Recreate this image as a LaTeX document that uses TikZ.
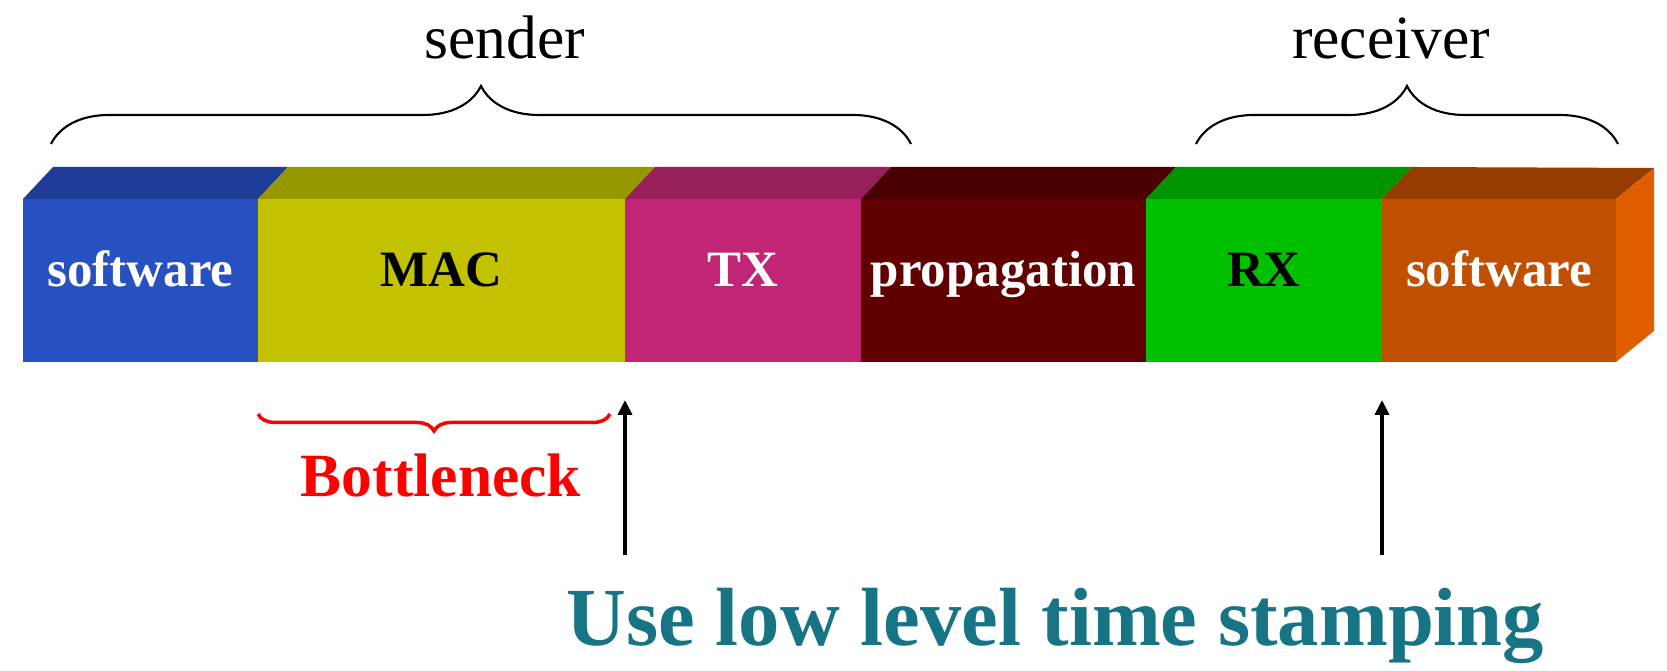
\documentclass[tikz,border=0pt]{standalone}
\usepackage{fontspec}
\setmainfont{Liberation Serif}
\usetikzlibrary{arrows.meta,positioning,calc,decorations.pathreplacing}
\definecolor{swblue}{HTML}{2750C0}
\definecolor{swbluetop}{HTML}{1F3C99}
\definecolor{macyellow}{HTML}{C2C200}
\definecolor{macyellowtop}{HTML}{979700}
\definecolor{txmagenta}{HTML}{C02675}
\definecolor{txmagentatop}{HTML}{971F5A}
\definecolor{propmaroon}{HTML}{600000}
\definecolor{propmaroontop}{HTML}{4A0000}
\definecolor{rxgreen}{HTML}{00C000}
\definecolor{rxgreentop}{HTML}{009400}
\definecolor{sworange}{HTML}{C04F00}
\definecolor{sworangetop}{HTML}{963C00}
\definecolor{sworangeside}{HTML}{E05E00}
\definecolor{stampteal}{HTML}{177484}

\begin{document}
\begin{tikzpicture}[
  facebox/.style={minimum height=1.63cm, inner sep=0pt, outer sep=0pt,
    font=\fontsize{14.5}{16}\selectfont\bfseries, text height=0.35cm, text depth=0.22cm},
  grpbrace/.style={decorate, decoration={brace, amplitude=0.58cm}, line width=0.6pt},
  botbrace/.style={decorate, decoration={brace, amplitude=0.17cm}, line width=1pt, red},
  stamparrow/.style={-{Triangle[length=0.15cm, width=0.14cm]}, line width=1.4pt},
]
  \useasboundingbox (0,0) rectangle (16.67,-6.71);
  \fill[white] (0,0) rectangle (16.67,-6.71);

  % front faces of the bar
  \node[facebox, fill=swblue, text=white, minimum width=2.35cm, anchor=north west] (sw1) at (0.23,-1.99) {software};
  \node[facebox, fill=macyellow, minimum width=3.67cm, right=0pt of sw1] (mac) {MAC};
  \node[facebox, fill=txmagenta, text=white, minimum width=2.36cm, right=0pt of mac] (tx) {TX};
  \node[facebox, fill=propmaroon, text=white, minimum width=2.85cm, right=0pt of tx] (prop) {propagation};
  \node[facebox, fill=rxgreen, minimum width=2.36cm, right=0pt of prop] (rx) {RX};
  \node[facebox, fill=sworange, text=white, minimum width=2.34cm, right=0pt of rx] (sw2) {software};

  % top faces and side
  \fill[swbluetop] (sw1.north west) -- ++(0.30,0.32) -- ($(sw1.north east)+(0.30,0.32)$) -- (sw1.north east) -- cycle;
  \fill[macyellowtop] (mac.north west) -- ++(0.30,0.32) -- ($(mac.north east)+(0.30,0.32)$) -- (mac.north east) -- cycle;
  \fill[txmagentatop] (tx.north west) -- ++(0.30,0.32) -- ($(tx.north east)+(0.30,0.32)$) -- (tx.north east) -- cycle;
  \fill[propmaroontop] (prop.north west) -- ++(0.30,0.32) -- ($(prop.north east)+(0.30,0.32)$) -- (prop.north east) -- cycle;
  \fill[rxgreentop] (rx.north west) -- ++(0.30,0.32) -- ($(rx.north east)+(0.30,0.32)$) -- (rx.north east) -- cycle;
  \fill[sworangetop] (sw2.north west) -- ++(0.30,0.32) -- ($(sw2.north east)+(0.38,0.31)$) -- (sw2.north east) -- cycle;
  \fill[sworangeside] (sw2.north east) -- ++(0.38,0.31) -- ++(0,-1.63) -- (sw2.south east) -- cycle;

  % sender / receiver braces
  \coordinate (sendl) at (0.51,-1.44);
  \coordinate (sendr) at (9.11,-1.44);
  \coordinate (recvl) at (11.96,-1.44);
  \coordinate (recvr) at (16.18,-1.44);
  \draw[grpbrace] (sendl) -- (sendr);
  \draw[grpbrace] (recvl) -- (recvr);
  \node[font=\fontsize{17.5}{20}\selectfont, anchor=base] (sender) at (5.05,-0.59) {sender};
  \node[font=\fontsize{17.5}{20}\selectfont, anchor=base] (receiver) at (13.91,-0.59) {receiver};

  % bottleneck
  \coordinate (bnl) at ([yshift=-0.52cm]mac.south west);
  \coordinate (bnr) at ([xshift=-0.15cm, yshift=-0.52cm]mac.south east);
  \draw[botbrace] (bnr) -- (bnl);
  \node[font=\fontsize{17.5}{20}\selectfont\bfseries, text=red, anchor=base] (bneck) at (4.41,-4.97) {Bottleneck};

  % time stamping points
  \coordinate (txstamp) at ([yshift=-0.38cm]mac.south east);
  \coordinate (txfoot) at ([yshift=-1.93cm]mac.south east);
  \coordinate (rxstamp) at ([yshift=-0.38cm]sw2.south west);
  \coordinate (rxfoot) at ([yshift=-1.93cm]sw2.south west);
  \draw[stamparrow] (txfoot) -- (txstamp);
  \draw[stamparrow] (rxfoot) -- (rxstamp);
  \node[font=\fontsize{23.5}{28}\selectfont\bfseries, text=stampteal, anchor=base] (lowlevel) at (10.555,-6.46) {Use low level time stamping};
\end{tikzpicture}
\end{document}
